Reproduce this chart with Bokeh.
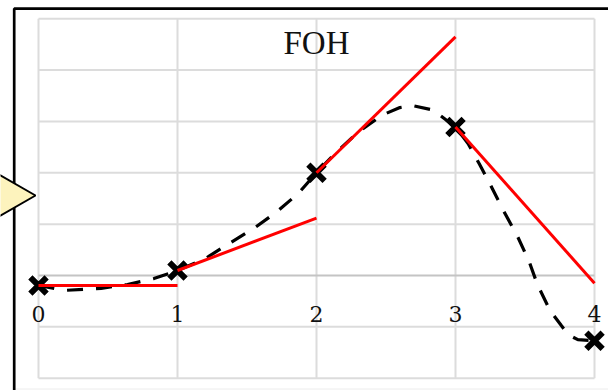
from bokeh.plotting import figure
from bokeh.models import Range1d
from bokeh.core.properties import value
from bokeh.embed import file_html
from bokeh.resources import INLINE

# ---- data ----
sample_x = [0, 1, 2, 3, 4]
sample_y = [-0.195, 0.097, 2.0, 2.89, -1.27]
hold_end_y = [-0.195, 1.117, 4.645, -0.15]   # end value of each first-order-hold segment
curve_x = [0.0, 0.19, 0.45, 0.64, 0.83, 1.0, 1.2, 1.37, 1.55, 1.71, 1.87, 2.0,
           2.15, 2.30, 2.47, 2.60, 2.69, 2.84, 3.0, 3.09, 3.17, 3.25, 3.34, 3.45,
           3.53, 3.59, 3.68, 3.76, 3.81, 3.88, 4.0]
curve_y = [-0.195, -0.29, -0.25, -0.175, -0.06, 0.097, 0.33, 0.62, 0.92, 1.23, 1.6, 2.0,
           2.42, 2.79, 3.12, 3.27, 3.31, 3.22, 2.89, 2.57, 2.18, 1.77, 1.29, 0.74,
           0.27, -0.18, -0.68, -0.97, -1.15, -1.25, -1.27]
tick_labels = ["0", "1", "2", "3", "4"]
grid_x = [0, 1, 2, 3, 4]
grid_y = [-2, -1, 1, 2, 3, 4, 5]
title_text = "FOH"

# pixel scale: 139 px per x unit, 51.36 px per y unit; grid origin at image (38, 275)
W, H = 608, 390
x0 = (0 - 38) / 139
x1 = (W - 38) / 139
y1 = (275 - 0) / 51.36
y0 = (275 - H) / 51.36

p = figure(width=W, height=H, output_backend="svg", toolbar_location=None,
           x_range=Range1d(x0, x1), y_range=Range1d(y0, y1), min_border=0)
p.axis.visible = False
p.grid.visible = False
p.outline_line_color = None
p.background_fill_color = "white"
p.border_fill_color = "white"

# grid lines
p.segment(x0=grid_x, y0=[-2] * len(grid_x), x1=grid_x, y1=[5] * len(grid_x),
          line_color="#dcdcdc", line_width=2)
p.segment(x0=[0] * len(grid_y), y0=grid_y, x1=[4] * len(grid_y), y1=grid_y,
          line_color="#dcdcdc", line_width=2)
p.segment(x0=[0], y0=[0], x1=[4], y1=[0], line_color="#c4c4c4", line_width=2)

# faint bottom line
p.line(x=[(15 - 38) / 139, x1], y=[(275 - 388.5) / 51.36] * 2, line_color="#ececec", line_width=1)

# outer black frame (partly off-canvas)
fx = (13.7 - 38) / 139
fy = (275 - 8.2) / 51.36
p.line(x=[fx, fx, x1 + 1], y=[y0 - 1, fy, fy], line_color="black", line_width=2.7)

# yellow pointer triangle
p.patch(x=[(-60 - 38) / 139, (35 - 38) / 139, (-60 - 38) / 139],
        y=[(275 - 140.7) / 51.36, (275 - 195) / 51.36, (275 - 249.3) / 51.36],
        fill_color="#fdf3bd", line_color="black", line_width=2)

# title
p.text(x=[2], y=[5], text=[title_text], text_align="center", text_baseline="middle",
       y_offset=24, text_font=value("Liberation Serif"), text_font_size="33px",
       text_color="#111111")

# tick labels
p.text(x=grid_x, y=[0] * len(grid_x), text=tick_labels, text_align="center",
       text_baseline="middle", y_offset=38, text_font=value("DejaVu Serif"),
       text_font_size="22px", text_color="#111111")

# underlying continuous signal (dashed)
p.line(x=curve_x, y=curve_y, line_color="black", line_width=3.2, line_dash="16 13")

# samples
p.scatter(x=sample_x, y=sample_y, marker="x", size=23, line_color="black", line_width=6)

# first-order hold segments
p.segment(x0=sample_x[:-1], y0=sample_y[:-1], x1=sample_x[1:], y1=hold_end_y,
          line_color="red", line_width=3)

open("out.html", "w").write(file_html(p, INLINE))
